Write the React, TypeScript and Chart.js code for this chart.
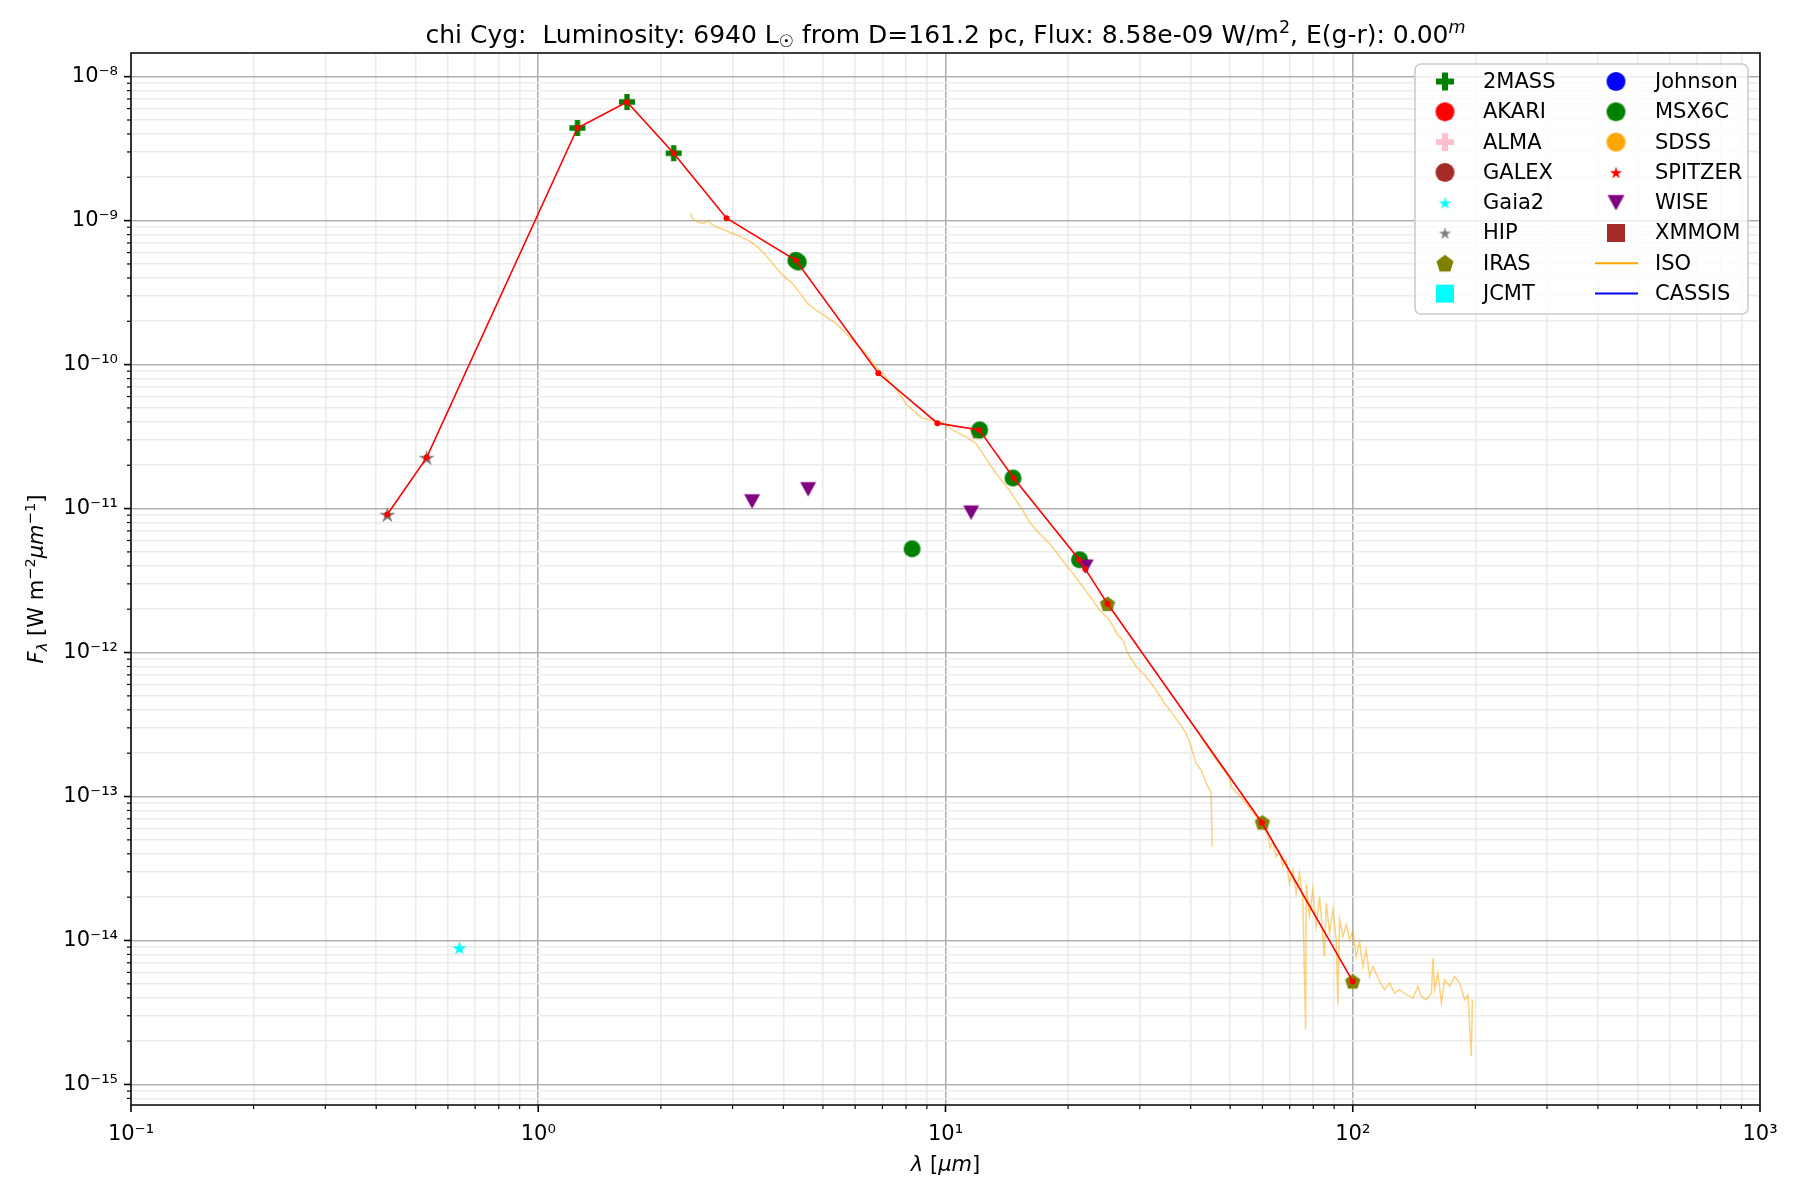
import { useEffect, useRef } from "react";
import Chart from "chart.js/auto";

const FONT = '"DejaVu Sans", sans-serif';

// axis limits (micron, W m^-2 um^-1)
const X_MIN = 0.1;
const X_MAX = 1000;
const Y_MIN = 7.2e-16;
const Y_MAX = 1.46e-8;

const xMajorTicks = [0.1, 1, 10, 100, 1000];
const xTickLabels = ["10⁻¹", "10⁰", "10¹", "10²", "10³"];
const yMajorTicks = [1e-15, 1e-14, 1e-13, 1e-12, 1e-11, 1e-10, 1e-9, 1e-8];
const yTickLabels = ["10⁻¹⁵", "10⁻¹⁴", "10⁻¹³", "10⁻¹²", "10⁻¹¹", "10⁻¹⁰", "10⁻⁹", "10⁻⁸"];

// photometry
const twoMassWave = [1.248, 1.652, 2.15];
const twoMassFlux = [4.4e-9, 6.67e-9, 2.94e-9];
const msxWave = [4.29, 4.35, 8.28, 12.13, 14.65, 21.34];
const msxFlux = [5.3e-10, 5.15e-10, 5.25e-12, 3.52e-11, 1.63e-11, 4.41e-12];
const wiseWave = [3.35, 4.6, 11.56, 22.09];
const wiseFlux = [1.12e-11, 1.36e-11, 9.37e-12, 3.95e-12];
const irasWave = [12, 25, 60, 100];
const irasFlux = [3.45e-11, 2.18e-12, 6.6e-14, 5.2e-15];
const hipWave = [0.426, 0.532];
const hipFlux = [9.1e-12, 2.26e-11];
const gaiaWave = [0.64];
const gaiaFlux = [8.9e-15];

// red connecting line
const sedWave = [0.426, 0.532, 1.248, 1.652, 2.15, 2.9, 4.29, 6.84, 9.55, 12.1, 14.7, 21.3, 22.05, 25.0, 59.8, 100];
const sedFlux = [9.1e-12, 2.26e-11, 4.4e-9, 6.67e-9, 2.94e-9, 1.04e-9, 5.3e-10, 8.7e-11, 3.92e-11, 3.52e-11, 1.63e-11, 4.41e-12, 3.8e-12, 2.18e-12, 6.6e-14, 5.2e-15];

// ISO spectrum, SWS part
const isoSwsWave = [
  2.365, 2.387, 2.433, 2.48, 2.551, 2.624, 2.649, 2.725, 2.83, 2.994,
  3.139, 3.29, 3.449, 3.616, 3.791, 3.973, 4.204, 4.366, 4.577, 4.798,
  5.079, 5.374, 5.686, 6.017, 6.368, 6.739, 6.998, 7.405, 7.69, 7.986,
  8.291, 8.776, 9.288, 9.829, 10.4, 11.21, 11.87, 12.33, 12.8, 13.29,
  13.8, 14.33, 14.88, 15.46, 16.05, 16.67, 17.31, 17.97, 18.67, 19.2,
  20.51, 21.71, 22.97, 23.85, 25.25, 26.47, 27.23, 28.01, 29.36, 31.07,
  32.88, 34.46, 35.79, 37.52, 38.96, 40.08, 41.23, 42.41, 44.04, 44.9,
  45.15,
];
const isoSwsFlux = [
  1.125e-9, 1.038e-9, 1.0e-9, 9.69e-10, 9.59e-10, 1.0e-9, 9.59e-10, 9.09e-10, 8.71e-10, 8.17e-10,
  7.75e-10, 7.27e-10, 6.6e-10, 5.78e-10, 4.92e-10, 4.2e-10, 3.67e-10, 3.21e-10, 2.67e-10, 2.4e-10,
  2.16e-10, 1.94e-10, 1.65e-10, 1.41e-10, 1.2e-10, 9.69e-11, 8.71e-11, 7.23e-11, 6.33e-11, 5.39e-11,
  4.85e-11, 4.24e-11, 4.13e-11, 3.96e-11, 3.52e-11, 3.16e-11, 2.84e-11, 2.42e-11, 2.07e-11, 1.76e-11,
  1.54e-11, 1.35e-11, 1.15e-11, 9.79e-12, 8.13e-12, 7.11e-12, 6.39e-12, 5.75e-12, 5.03e-12, 4.52e-12,
  3.56e-12, 2.87e-12, 2.32e-12, 1.98e-12, 1.69e-12, 1.33e-12, 1.23e-12, 9.9e-13, 8.0e-13, 6.82e-13,
  5.51e-13, 4.45e-13, 3.89e-13, 3.23e-13, 2.75e-13, 2.23e-13, 1.7e-13, 1.53e-13, 1.17e-13, 1.08e-13,
  4.5e-14,
];

// ISO spectrum, LWS part
const isoLwsWave = [
  42.8, 46.2, 49.8, 50.5, 52.7, 54.7, 57.9, 60.0, 61.8, 62.7,
  63.6, 64.9, 66.1, 67.3, 68.6, 69.9, 71.3, 72.6, 74.0, 75.4,
  76.6, 76.9, 78.3, 79.8, 81.3, 82.9, 84.4, 85.2, 86.1, 87.7,
  89.4, 91.1, 91.9, 92.8, 94.6, 96.4, 98.2, 100.1, 102.0, 103.9,
  105.9, 107.9, 110.0, 112.1, 116.4, 119.7, 123.2, 126.6, 130.3, 135.3,
  140.5, 144.6, 147.3, 151.6, 156.0, 157.4, 158.9, 161.9, 165.0, 168.2,
  173.0, 177.9, 183.0, 188.3, 191.9, 193.7, 195.5, 196.7,
];
const isoLwsFlux = [
  2.48e-13, 1.8e-13, 1.35e-13, 1.15e-13, 1.02e-13, 8.99e-14, 7.27e-14, 6.19e-14, 5.42e-14, 4.38e-14,
  4.87e-14, 3.83e-14, 4.15e-14, 3.27e-14, 3.63e-14, 2.5e-14, 3.1e-14, 2.13e-14, 2.94e-14, 1.92e-14,
  2.4e-15, 2.5e-14, 1.47e-14, 2.25e-14, 1.25e-14, 2.02e-14, 1.07e-14, 7.74e-15, 1.82e-14, 1.12e-14,
  1.63e-14, 1.01e-14, 3.58e-15, 1.39e-14, 1.07e-14, 1.29e-14, 1.01e-14, 1.16e-14, 7.74e-15, 9.85e-15,
  6.6e-15, 8.62e-15, 5.62e-15, 6.6e-15, 5.19e-15, 4.55e-15, 5.06e-15, 4.31e-15, 4.55e-15, 4.2e-15,
  3.98e-15, 4.8e-15, 4.09e-15, 3.88e-15, 4.31e-15, 7.54e-15, 4.55e-15, 5.93e-15, 3.67e-15, 5.34e-15,
  4.8e-15, 5.62e-15, 5.06e-15, 3.88e-15, 4.2e-15, 2.53e-15, 1.57e-15, 3.88e-15,
];

type Shape = "plus" | "circle" | "star" | "pentagon" | "square" | "tri_down" | "line";

const legendCol1: { label: string; shape: Shape; color: string; size: number }[] = [
  { label: "2MASS", shape: "plus", color: "#008000", size: 18 },
  { label: "AKARI", shape: "circle", color: "#ff0000", size: 19 },
  { label: "ALMA", shape: "plus", color: "#ffc0cb", size: 18 },
  { label: "GALEX", shape: "circle", color: "#a52a2a", size: 19 },
  { label: "Gaia2", shape: "star", color: "#00ffff", size: 13 },
  { label: "HIP", shape: "star", color: "#808080", size: 13 },
  { label: "IRAS", shape: "pentagon", color: "#808000", size: 18 },
  { label: "JCMT", shape: "square", color: "#00ffff", size: 18 },
];
const legendCol2: { label: string; shape: Shape; color: string; size: number }[] = [
  { label: "Johnson", shape: "circle", color: "#0000ff", size: 19 },
  { label: "MSX6C", shape: "circle", color: "#008000", size: 19 },
  { label: "SDSS", shape: "circle", color: "#ffa500", size: 19 },
  { label: "SPITZER", shape: "star", color: "#ff0000", size: 13 },
  { label: "WISE", shape: "tri_down", color: "#800080", size: 17 },
  { label: "XMMOM", shape: "square", color: "#a52a2a", size: 18 },
  { label: "ISO", shape: "line", color: "#ffa500", size: 0 },
  { label: "CASSIS", shape: "line", color: "#0000ff", size: 0 },
];

function makeMarker(shape: Shape, size: number, color: string): HTMLCanvasElement {
  const w = Math.ceil(size + 4);
  const c = document.createElement("canvas");
  c.width = w;
  c.height = w;
  const ctx = c.getContext("2d")!;
  const m = w / 2;
  const r = size / 2;
  ctx.fillStyle = color;
  ctx.beginPath();
  if (shape === "circle") {
    ctx.arc(m, m, r, 0, Math.PI * 2);
  } else if (shape === "square") {
    ctx.rect(m - r, m - r, size, size);
  } else if (shape === "plus") {
    const t = size / 3;
    ctx.rect(m - r, m - t / 2, size, t);
    ctx.rect(m - t / 2, m - r, t, size);
  } else if (shape === "star") {
    for (let i = 0; i < 10; i++) {
      const rr = i % 2 === 0 ? r : r * 0.382;
      const a = -Math.PI / 2 + (i * Math.PI) / 5;
      const px = m + rr * Math.cos(a);
      const py = m + rr * Math.sin(a) + r * 0.1;
      if (i === 0) ctx.moveTo(px, py);
      else ctx.lineTo(px, py);
    }
    ctx.closePath();
  } else if (shape === "pentagon") {
    for (let i = 0; i < 5; i++) {
      const a = -Math.PI / 2 + (i * 2 * Math.PI) / 5;
      const px = m + r * Math.cos(a);
      const py = m + r * 1.02 * Math.sin(a) + r * 0.08;
      if (i === 0) ctx.moveTo(px, py);
      else ctx.lineTo(px, py);
    }
    ctx.closePath();
  } else if (shape === "tri_down") {
    ctx.moveTo(m - r, m - r * 0.9);
    ctx.lineTo(m + r, m - r * 0.9);
    ctx.lineTo(m, m + r * 0.9);
    ctx.closePath();
  }
  ctx.fill();
  return c;
}

const pts = (xs: number[], ys: number[]) => xs.map((x, i) => ({ x, y: ys[i] }));

function buildTicks(majors: number[], min: number, max: number) {
  const out: { value: number; major: boolean }[] = [];
  const decades = [majors[0] / 10, ...majors];
  for (const d of decades) {
    if (d >= min && d <= max) out.push({ value: d, major: true });
    for (let k = 2; k <= 9; k++) {
      const v = d * k;
      if (v >= min && v <= max) out.push({ value: v, major: false });
    }
  }
  return out.sort((a, b) => a.value - b.value);
}

type Seg = { t: string; size?: number; dy?: number; italic?: boolean };

function drawRich(ctx: CanvasRenderingContext2D, segs: Seg[], x: number, y: number, base: number) {
  const font = (s: Seg) => `${s.italic ? "italic " : ""}${s.size ?? base}px ${FONT}`;
  let total = 0;
  for (const s of segs) {
    ctx.font = font(s);
    total += ctx.measureText(s.t).width;
  }
  let cx = x - total / 2;
  ctx.textAlign = "left";
  ctx.textBaseline = "alphabetic";
  for (const s of segs) {
    ctx.font = font(s);
    ctx.fillText(s.t, cx, y + (s.dy ?? 0));
    cx += ctx.measureText(s.t).width;
  }
}

const titleSegs: Seg[] = [
  { t: "chi Cyg:  Luminosity: 6940 L" },
  { t: "☉", size: 17, dy: 4 },
  { t: " from D=161.2 pc, Flux: 8.58e-09 W/m" },
  { t: "2", size: 17.5, dy: -10 },
  { t: ", E(g-r): 0.00" },
  { t: "m", size: 17.5, dy: -10, italic: true },
];
const xTitleSegs: Seg[] = [{ t: "λ", italic: true }, { t: " [" }, { t: "μm", italic: true }, { t: "]" }];
const yTitleSegs: Seg[] = [
  { t: "F", italic: true },
  { t: "λ", size: 14.7, dy: 4, italic: true },
  { t: " [W m" },
  { t: "−2", size: 14.7, dy: -8 },
  { t: "μm", italic: true },
  { t: "−1", size: 14.7, dy: -8 },
  { t: "]" },
];

const decorPlugin = {
  id: "decor",
  afterDraw(chart: any) {
    const { ctx, chartArea: a, scales } = chart;
    ctx.save();
    ctx.strokeStyle = "#000";
    // tick marks
    for (const t of scales.x.ticks) {
      const px = scales.x.getPixelForValue(t.value);
      ctx.lineWidth = t.major ? 1.6 : 1.2;
      ctx.beginPath();
      ctx.moveTo(px, a.bottom);
      ctx.lineTo(px, a.bottom + (t.major ? 7 : 4));
      ctx.stroke();
    }
    for (const t of scales.y.ticks) {
      const py = scales.y.getPixelForValue(t.value);
      ctx.lineWidth = t.major ? 1.6 : 1.2;
      ctx.beginPath();
      ctx.moveTo(a.left, py);
      ctx.lineTo(a.left - (t.major ? 7 : 4), py);
      ctx.stroke();
    }
    // frame
    ctx.lineWidth = 1.6;
    ctx.strokeStyle = "#111";
    ctx.strokeRect(a.left, a.top, a.right - a.left, a.bottom - a.top);

    // titles
    ctx.fillStyle = "#000";
    const cx = (a.left + a.right) / 2;
    drawRich(ctx, titleSegs, cx, 43, 25);
    drawRich(ctx, xTitleSegs, cx, 1171, 21);
    ctx.save();
    ctx.translate(43, (a.top + a.bottom) / 2);
    ctx.rotate(-Math.PI / 2);
    drawRich(ctx, yTitleSegs, 0, 0, 21);
    ctx.restore();

    // legend
    const bx = 1415, by = 64, bw = 333, bh = 250;
    ctx.beginPath();
    ctx.roundRect(bx, by, bw, bh, 6);
    ctx.fillStyle = "rgba(255,255,255,0.8)";
    ctx.fill();
    ctx.strokeStyle = "#cccccc";
    ctx.lineWidth = 1.6;
    ctx.stroke();
    ctx.font = `21px ${FONT}`;
    ctx.textAlign = "left";
    ctx.textBaseline = "middle";
    const cols = [
      { items: legendCol1, mx: 1445, tx: 1483 },
      { items: legendCol2, mx: 1616, tx: 1655 },
    ];
    for (const col of cols) {
      col.items.forEach((it, i) => {
        const y = 81.5 + i * 30.3;
        if (it.shape === "line") {
          ctx.strokeStyle = it.color;
          ctx.lineWidth = 2;
          ctx.beginPath();
          ctx.moveTo(col.mx - 21, y);
          ctx.lineTo(col.mx + 22, y);
          ctx.stroke();
        } else {
          const img = makeMarker(it.shape, it.size, it.color);
          ctx.drawImage(img, col.mx - img.width / 2, y - img.height / 2);
        }
        ctx.fillStyle = "#000";
        ctx.fillText(it.label, col.tx, y + 1);
      });
    }
    ctx.restore();
  },
};

export default function App() {
  const canvasRef = useRef<HTMLCanvasElement | null>(null);
  const chartRef = useRef<Chart | null>(null);

  useEffect(() => {
    document.body.style.margin = "0";
    document.body.style.overflow = "hidden";
    if (!canvasRef.current) return;
    chartRef.current?.destroy();

    const scatterSet = (label: string, data: { x: number; y: number }[], img: HTMLCanvasElement, order: number) => ({
      label,
      data,
      showLine: false,
      pointStyle: img,
      pointRadius: 6,
      pointHoverRadius: 6,
      order,
    });

    const gridColor = (c: any) => (c.tick && c.tick.major ? "#b0b0b0" : "#ebebeb");

    chartRef.current = new Chart(canvasRef.current, {
      type: "scatter",
      data: {
        datasets: [
          {
            label: "sed",
            data: pts(sedWave, sedFlux),
            showLine: true,
            borderColor: "#ff0000",
            borderWidth: 1.6,
            pointRadius: 3,
            pointBackgroundColor: "#ff0000",
            pointBorderWidth: 0,
            order: 0,
          },
          scatterSet("WISE", pts(wiseWave, wiseFlux), makeMarker("tri_down", 16, "#800080"), 1),
          scatterSet("MSX6C", pts(msxWave, msxFlux), makeMarker("circle", 17, "#008000"), 2),
          scatterSet("2MASS", pts(twoMassWave, twoMassFlux), makeMarker("plus", 16, "#008000"), 3),
          scatterSet("HIP", pts(hipWave, hipFlux), makeMarker("star", 17, "#808080"), 4),
          scatterSet("Gaia2", pts(gaiaWave, gaiaFlux), makeMarker("star", 15, "#00ffff"), 4),
          scatterSet("IRAS", pts(irasWave, irasFlux), makeMarker("pentagon", 16, "#808000"), 5),
          {
            label: "ISO",
            data: pts(isoSwsWave, isoSwsFlux),
            showLine: true,
            borderColor: "rgba(255,165,0,0.5)",
            borderWidth: 1.5,
            pointRadius: 0,
            order: 10,
          },
          {
            label: "ISO LWS",
            data: pts(isoLwsWave, isoLwsFlux),
            showLine: true,
            borderColor: "rgba(255,165,0,0.5)",
            borderWidth: 1.5,
            pointRadius: 0,
            order: 10,
          },
        ] as any,
      },
      options: {
        responsive: false,
        animation: false,
        devicePixelRatio: 1,
        layout: { padding: { top: 53, right: 40, left: 0, bottom: 0 } },
        plugins: {
          legend: { display: false },
          tooltip: { enabled: false },
          title: { display: false },
        },
        scales: {
          x: {
            type: "logarithmic",
            min: X_MIN,
            max: X_MAX,
            afterBuildTicks: (scale: any) => {
              scale.ticks = buildTicks(xMajorTicks, X_MIN, X_MAX);
            },
            afterFit: (scale: any) => {
              scale.height = 95;
            },
            grid: { color: gridColor, lineWidth: 1.6, drawTicks: false },
            border: { display: false },
            ticks: {
              autoSkip: false,
              maxRotation: 0,
              padding: 17,
              color: "#000",
              font: { family: FONT, size: 21 },
              callback: (v: any) => {
                const i = xMajorTicks.indexOf(Number(v));
                return i >= 0 ? xTickLabels[i] : "";
              },
            },
          },
          y: {
            type: "logarithmic",
            min: Y_MIN,
            max: Y_MAX,
            afterBuildTicks: (scale: any) => {
              scale.ticks = buildTicks(yMajorTicks, Y_MIN, Y_MAX);
            },
            afterFit: (scale: any) => {
              scale.width = 131;
            },
            grid: { color: gridColor, lineWidth: 1.6, drawTicks: false },
            border: { display: false },
            ticks: {
              autoSkip: false,
              padding: 13,
              color: "#000",
              font: { family: FONT, size: 21 },
              callback: (v: any) => {
                const i = yMajorTicks.indexOf(Number(v));
                return i >= 0 ? yTickLabels[i] : "";
              },
            },
          },
        },
      },
      plugins: [decorPlugin],
    });

    return () => {
      chartRef.current?.destroy();
      chartRef.current = null;
    };
  }, []);

  return (
    <div style={{ width: 1800, height: 1200, background: "#fff" }}>
      <canvas ref={canvasRef} width={1800} height={1200} style={{ display: "block" }} />
    </div>
  );
}
